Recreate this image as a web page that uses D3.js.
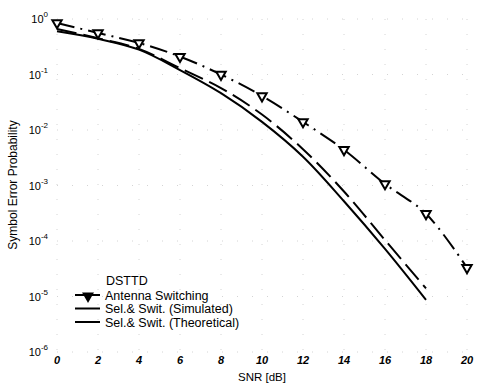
<!DOCTYPE html>
<html>
<head>
<meta charset="utf-8">
<script src="https://cdn.jsdelivr.net/npm/d3@7"></script>
<style>
  body { margin: 0; background: #fff; }
  text { font-family: "Liberation Sans", Arial, sans-serif; fill: #000; }
</style>
</head>
<body>
<svg id="chart" width="481" height="385"></svg>
<script>
// SNR values in dB
const snr = [0, 2, 4, 6, 8, 10, 12, 14, 16, 18, 20];
const snrShort = [0, 2, 4, 6, 8, 10, 12, 14, 16, 18];

// symbol error probability
const antennaSwitching = [0.85, 0.56, 0.37, 0.21, 0.10, 0.041, 0.014, 0.0044, 0.00107, 0.00031, 0.000033];
const selSwitSim = [0.6, 0.44, 0.28, 0.12, 0.046, 0.014, 0.0033, 0.00052, 0.000072, 0.0000087];
const selSwitTheo = [0.66, 0.45, 0.29, 0.13, 0.057, 0.019, 0.0045, 0.00078, 0.000104, 0.000014];

const xTicks = [0, 2, 4, 6, 8, 10, 12, 14, 16, 18, 20];
const yExponents = [0, -1, -2, -3, -4, -5, -6];

const svg = d3.select("#chart");

const x = d3.scaleLinear().domain([0, 20]).range([57, 467]);
const y = d3.scaleLog().domain([1e-6, 1]).range([352, 19]);

// faint dotted grid
const grid = svg.append("g")
  .attr("stroke", "#d4d4d4")
  .attr("stroke-width", 1)
  .attr("stroke-dasharray", "1,14");

grid.selectAll(".gx")
  .data(xTicks)
  .enter().append("line")
  .attr("x1", d => x(d)).attr("x2", d => x(d))
  .attr("y1", y(1)).attr("y2", y(1e-6));

grid.selectAll(".gy")
  .data(yExponents)
  .enter().append("line")
  .attr("x1", x(0)).attr("x2", x(20))
  .attr("y1", d => y(Math.pow(10, d))).attr("y2", d => y(Math.pow(10, d)));

// y tick labels, 10 with exponent
const yLab = svg.append("g")
  .selectAll("text")
  .data(yExponents)
  .enter().append("text")
  .attr("x", 48)
  .attr("y", d => y(Math.pow(10, d)) + 4)
  .attr("text-anchor", "end")
  .attr("font-size", 11);
yLab.append("tspan").text("10");
yLab.append("tspan")
  .attr("dy", -6)
  .attr("font-size", 8)
  .text(d => d);

// x tick labels
svg.append("g")
  .selectAll("text")
  .data(xTicks)
  .enter().append("text")
  .attr("x", d => x(d))
  .attr("y", 364)
  .attr("text-anchor", "middle")
  .attr("font-size", 11)
  .attr("font-style", "italic")
  .attr("font-weight", "bold")
  .text(d => d);

svg.append("text")
  .attr("x", 262)
  .attr("y", 381)
  .attr("text-anchor", "middle")
  .attr("font-size", 11.5)
  .text("SNR [dB]");

svg.append("text")
  .attr("transform", "translate(17,185) rotate(-90)")
  .attr("text-anchor", "middle")
  .attr("font-size", 12)
  .text("Symbol Error Probability");

const line = d3.line()
  .x(d => x(d[0]))
  .y(d => y(d[1]))
  .curve(d3.curveCatmullRom.alpha(0.5));

// Sel.& Swit. (Simulated) - solid
svg.append("path")
  .datum(d3.zip(snrShort, selSwitSim))
  .attr("d", line)
  .attr("fill", "none")
  .attr("stroke", "#000")
  .attr("stroke-width", 2);

// Sel.& Swit. (Theoretical) - dashed
svg.append("path")
  .datum(d3.zip(snrShort, selSwitTheo))
  .attr("d", line)
  .attr("fill", "none")
  .attr("stroke", "#000")
  .attr("stroke-width", 2)
  .attr("stroke-dasharray", "20,7");

// Antenna Switching - dash dot with triangles
svg.append("path")
  .datum(d3.zip(snr, antennaSwitching))
  .attr("d", line)
  .attr("fill", "none")
  .attr("stroke", "#000")
  .attr("stroke-width", 2)
  .attr("stroke-dasharray", "18,6,2,6");

const tri = d3.symbol().type(d3.symbolTriangle).size(38);
svg.append("g")
  .selectAll("path")
  .data(d3.zip(snr, antennaSwitching))
  .enter().append("path")
  .attr("d", tri)
  .attr("transform", d => `translate(${x(d[0])},${y(d[1])}) rotate(180)`)
  .attr("fill", "#fff")
  .attr("stroke", "#000")
  .attr("stroke-width", 2);

// legend
const legend = svg.append("g").attr("font-size", 12.5);
legend.append("text").attr("x", 106).attr("y", 285).text("DSTTD");
const items = ["Antenna Switching", "Sel.& Swit. (Simulated)", "Sel.& Swit. (Theoretical)"];
items.forEach((name, i) => {
  const ly = 295 + i * 13.5;
  legend.append("line")
    .attr("x1", 75).attr("x2", 100)
    .attr("y1", ly).attr("y2", ly)
    .attr("stroke", "#000")
    .attr("stroke-width", 2);
  if (i === 0) {
    legend.append("path")
      .attr("d", tri)
      .attr("transform", `translate(88,${ly + 1}) rotate(180)`)
      .attr("fill", "#000")
      .attr("stroke", "#000")
      .attr("stroke-width", 1.5);
  }
  legend.append("text").attr("x", 105).attr("y", ly + 4.5).text(name);
});
</script>
</body>
</html>
